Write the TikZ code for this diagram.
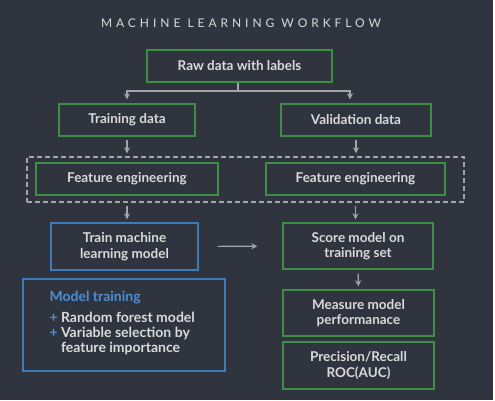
\documentclass[tikz,border=0pt]{standalone}
\usepackage{fontspec}
\setmainfont{Lato}
\usetikzlibrary{arrows.meta}
\definecolor{bgdark}{HTML}{30343F}
\definecolor{boxgreen}{HTML}{3E8E45}
\definecolor{boxblue}{HTML}{3F7BBA}
\definecolor{linegray}{HTML}{A3A5AB}
\definecolor{txtlight}{HTML}{DADADA}
\definecolor{txtblue}{HTML}{4C8FD2}

\tikzset{
  stepbox/.style={draw=boxgreen, line width=1.4pt, inner sep=0pt, text=txtlight,
    align=center, font=\fontsize{13.5}{15.5}\selectfont\bfseries},
  modelbox/.style={stepbox, draw=boxblue},
  flow/.style={draw=linegray, line width=1.1pt, -{Stealth[length=6pt,width=6pt]}}
}

\begin{document}
\begin{tikzpicture}[x=1pt,y=-1pt]
		\fill[bgdark] (0,0) rectangle (493,400);
		\fill[white] (493,0) rectangle (495,400);
		\useasboundingbox (0,0) rectangle (495,400);
		\node (title) at (241,23) [text=txtlight, font=\fontsize{12}{14}\selectfont\addfontfeature{LetterSpace=33}] {MACHINE LEARNING WORKFLOW};
		% top row
		\node (raw) at (239.5,66) [stepbox, minimum width=185pt, minimum height=32pt] {Raw data with labels};
		\node (train) at (127,120) [stepbox, minimum width=136pt, minimum height=32pt] {Training data};
		\node (valid) at (356,120) [stepbox, minimum width=150pt, minimum height=32pt] {Validation data};
		% feature engineering
		\node (fetrain) at (127,179) [stepbox, minimum width=182pt, minimum height=32pt] {Feature engineering};
		\node (fevalid) at (355.5,179) [stepbox, minimum width=179pt, minimum height=32pt] {Feature engineering};
		\node (febox) at (245.5,179.5) [draw=linegray, line width=1.1pt, dash pattern=on 5pt off 3pt, minimum width=437pt, minimum height=45pt] {};
		% model
		\node (model) at (124.5,246.5) [modelbox, minimum width=147pt, minimum height=47pt] {Train machine\\learning model};
		\node (score) at (358,246) [stepbox, minimum width=150pt, minimum height=46pt] {Score model on\\training set};
		\node (measure) at (358.5,313) [stepbox, minimum width=151pt, minimum height=46pt] {Measure model\\performanace};
		\node (prec) at (358.5,365.5) [stepbox, minimum width=151pt, minimum height=47pt] {Precision/Recall\\ROC(AUC)};
		\node (notes) at (124,325) [modelbox, minimum width=202pt, minimum height=92pt] {};
		\node (notestitle) at (46,298) [anchor=west, text=txtblue, font=\fontsize{14}{15}\selectfont\bfseries] {Model training};
		\node (notesitems) at (46,333) [anchor=west, text=txtlight, align=left, font=\fontsize{14}{15}\selectfont\bfseries]
		{{\color{txtblue}+} Random forest model\\{\color{txtblue}+} Variable selection by\\\phantom{+} feature importance};
		% connectors
		\coordinate (split) at (238,91);
		\draw [draw=linegray, line width=1.1pt] (raw.south -| split) -- (split);
		\draw [flow] (split) -| (train.north) [shorten >=4pt];
		\draw [flow] (split) -| ([xshift=-6pt]valid.north) [shorten >=4pt];
		\draw [flow, shorten <=3pt, shorten >=9pt] (train) -- (fetrain);
		\draw [flow, shorten <=3pt, shorten >=9pt] (valid.south) -- (valid.south |- fevalid.north);
		\draw [flow, shorten <=10pt, shorten >=3pt] (fetrain.south) -- (fetrain.south |- model.north);
		\draw [flow, shorten <=10pt, shorten >=3pt] (fevalid.south) -- (fevalid.south |- score.north);
		\draw [flow, shorten <=19pt, shorten >=25pt] (model) -- (score);
		\draw [flow, shorten <=4pt, shorten >=3pt] (score) -- (measure);
\end{tikzpicture}
\end{document}
